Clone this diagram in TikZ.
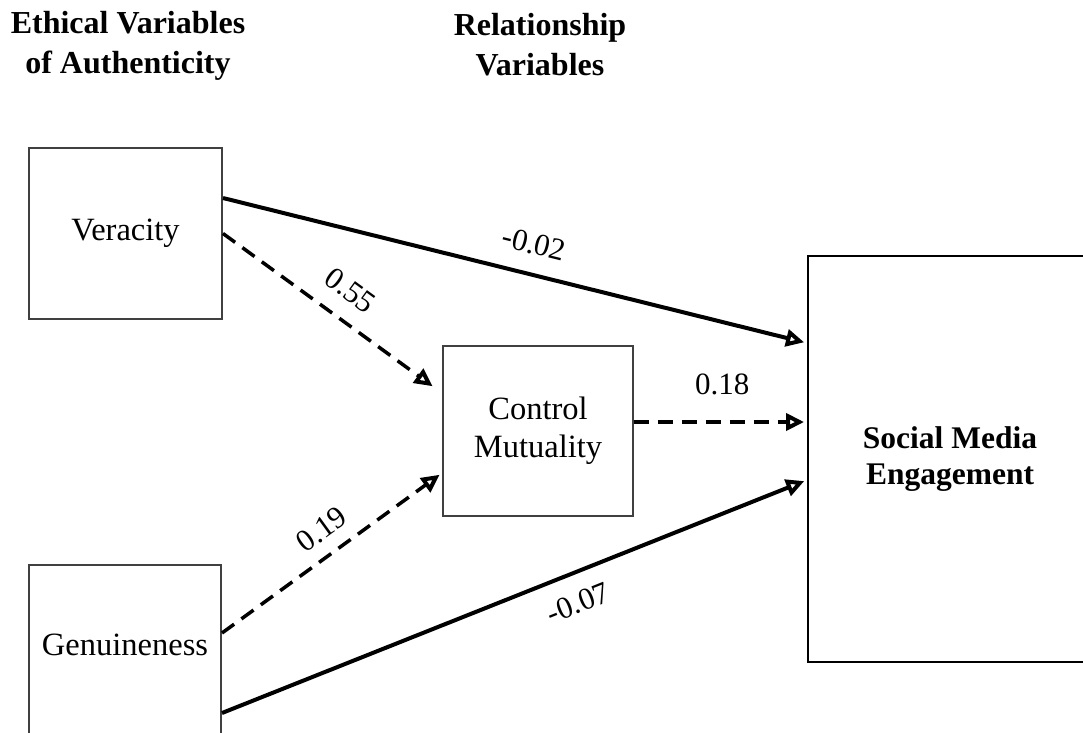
\documentclass[tikz,border=0pt]{standalone}
\usepackage{fontspec}
\setmainfont{Liberation Serif}
\usetikzlibrary{arrows.meta,calc}

\begin{document}
\begin{tikzpicture}[x=1pt,y=-1pt,
  box/.style={draw=black!75, line width=2pt, fill=white, align=center, inner sep=0pt,
    font=\fontsize{32.5}{38}\selectfont},
  head/.style={font=\bfseries\fontsize{32}{40}\selectfont, align=center, inner sep=0pt},
  lab/.style={font=\fontsize{31}{34}\selectfont, inner sep=0pt},
  tip/.style={-{Triangle[open,length=18pt,width=17pt,line width=4pt]}, shorten >=3pt},
  solidpath/.style={tip, line width=4pt},
  dashpath/.style={tip, line width=3.5pt, dash pattern=on 15pt off 9pt},
]
\useasboundingbox (0,0) rectangle (1083,732);
\clip (0,0) rectangle (1083,732);

% column headings
\node[head] (h1) at (128,46) {Ethical Variables\\of Authenticity};
\node[head] (h2) at (540,45) {Relationship\\Variables};

% variable boxes
\node[box, minimum width=193pt, minimum height=171pt] (ver) at (125.5,233.5) {Veracity};
\node[box, minimum width=192pt, minimum height=220pt, anchor=north] (gen) at (125,564) {};
\node[font=\fontsize{32.5}{38}\selectfont, inner sep=0pt] (genlabel) at (125,645) {Genuineness};
\node[box, minimum width=190pt, minimum height=170pt] (cm) at (538,431) {Control\\Mutuality};
\node[box, draw=black, minimum width=284pt, minimum height=406pt,
  font=\bfseries\fontsize{31.5}{36}\selectfont] (sme) at (950,459) {Social Media\\Engagement};

% direct paths
\draw[solidpath] ([yshift=35.5pt]ver.east) --
  node[lab, sloped, above=18pt, pos=0.52] (l1) {-0.02} ([yshift=116pt]sme.west);
\draw[solidpath] ([yshift=-38pt]gen.east) --
  node[lab, sloped, below=17pt, pos=0.59] (l5) {-0.07} ([yshift=-21pt]sme.west);

% mediated paths
\draw[dashpath] (ver.east) --
  node[lab, sloped, above=17pt, pos=0.52] (l2) {0.55} ([xshift=-7pt,yshift=43pt]cm.west);
\draw[dashpath] ([yshift=42pt]gen.east) --
  node[lab, sloped, above=13pt, pos=0.52] (l4) {0.19} ([yshift=-42pt]cm.west);
\draw[dashpath] ([yshift=9pt]cm.east) --
  node[lab, above=25pt, pos=0.51] (l3) {0.18} ([yshift=37pt]sme.west);
\end{tikzpicture}
\end{document}
